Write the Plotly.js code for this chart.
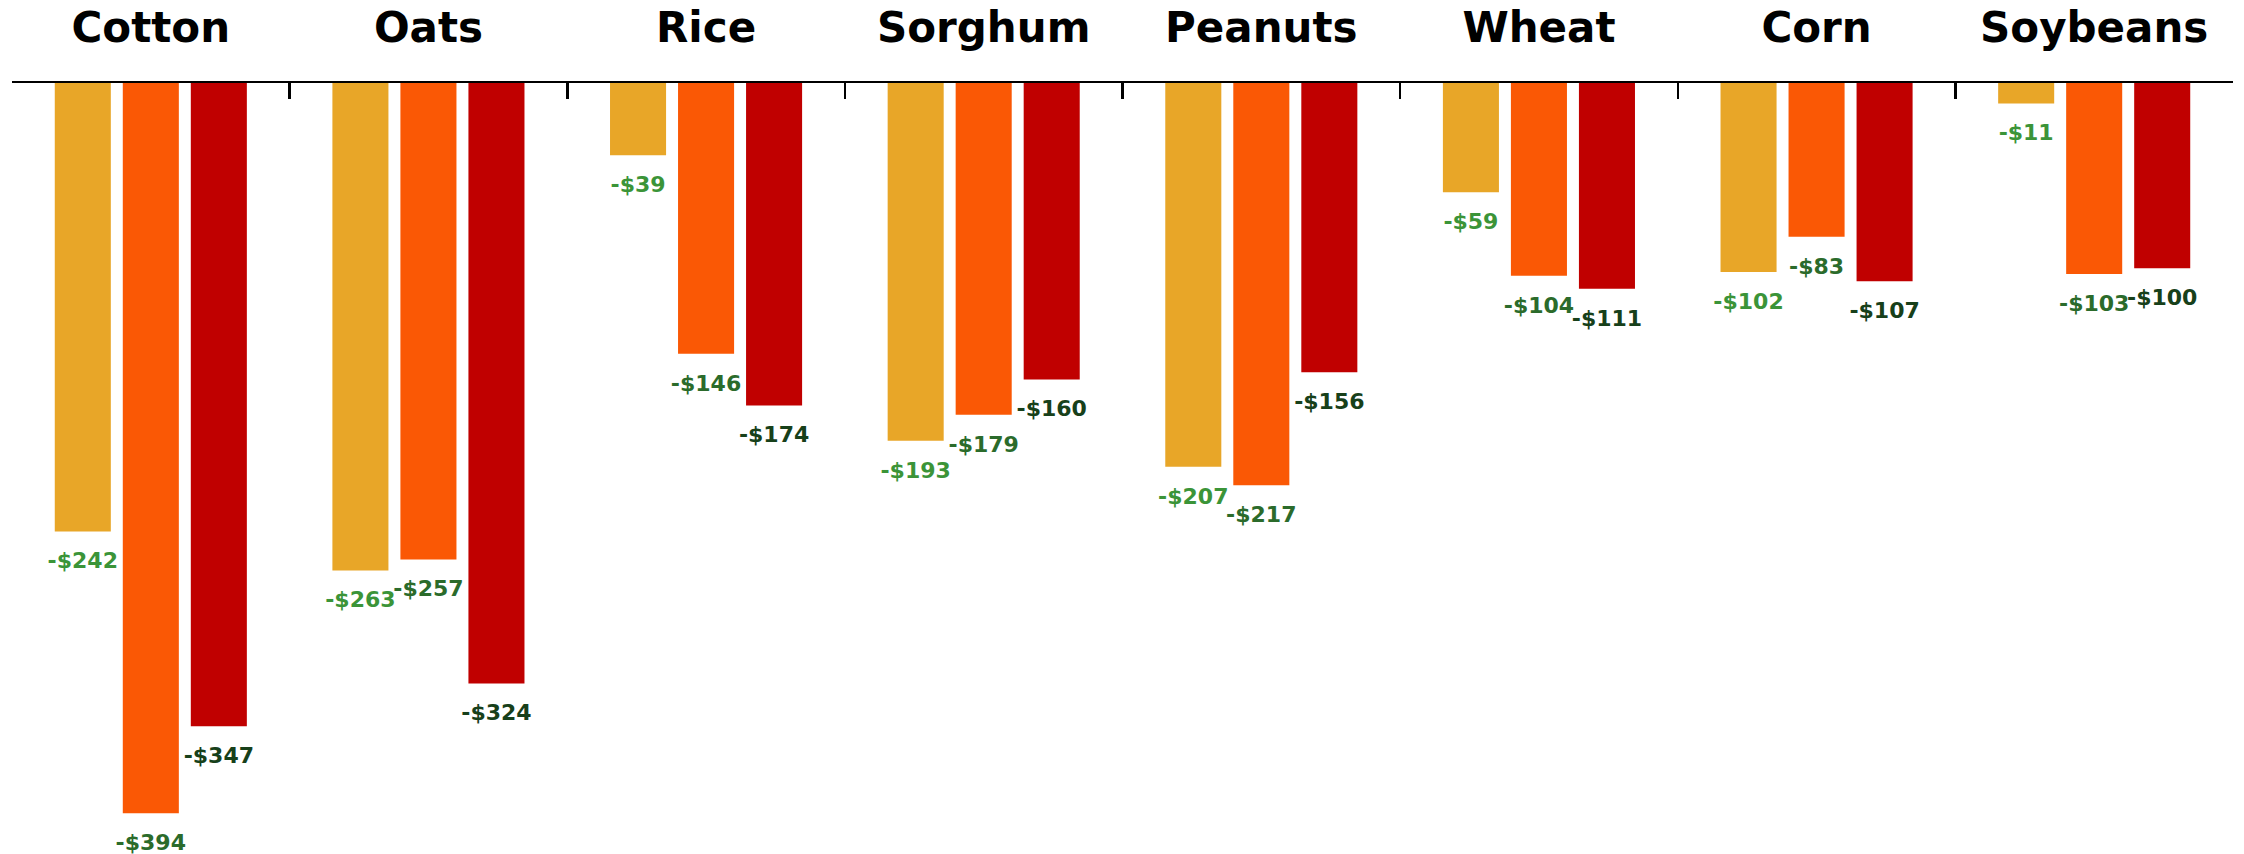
<!DOCTYPE html>
<html>
<head>
<meta charset="utf-8">
<script src="https://cdn.plot.ly/plotly-3.0.1.min.js"></script>
<style>html,body{margin:0;padding:0;background:#fff;}#chart{width:2244px;height:854px;}</style>
</head>
<body>
<div id="chart"></div>
<script>
const categories = ["Cotton", "Oats", "Rice", "Sorghum", "Peanuts", "Wheat", "Corn", "Soybeans"];
const series1 = [-242, -263, -39, -193, -207, -59, -102, -11];
const series2 = [-394, -257, -146, -179, -217, -104, -83, -103];
const series3 = [-347, -324, -174, -160, -156, -111, -107, -100];
const seriesNames = ["Series 1", "Series 2", "Series 3"];
const barColors = ["#E8A628", "#FA5805", "#C00000"];
const labelColors = ["#3B9438", "#2B6B2B", "#17401A"];

const allSeries = [series1, series2, series3];
const fmt = v => (v < 0 ? "-$" : "$") + Math.abs(v);
const FONT = "DejaVu Sans, Verdana, sans-serif";

const traces = [];
allSeries.forEach((vals, i) => {
  traces.push({
    type: "bar", x: categories, y: vals, name: seriesNames[i],
    marker: {color: barColors[i]}, offsetgroup: "g" + i, hoverinfo: "skip"
  });
});
allSeries.forEach((vals, i) => {
  traces.push({
    type: "scatter", mode: "markers+text", x: categories, y: vals,
    offsetgroup: "g" + i, text: vals.map(fmt), textposition: "bottom center",
    textfont: {family: FONT, size: 22, color: labelColors[i], weight: "bold"},
    marker: {size: 31, color: "rgba(0,0,0,0)"}, cliponaxis: false,
    hoverinfo: "skip", showlegend: false
  });
});

const layout = {
  width: 2244, height: 854,
  margin: {l: 12, r: 11, t: 83, b: 11},
  paper_bgcolor: "#fff", plot_bgcolor: "#fff",
  font: {family: FONT},
  showlegend: false,
  barmode: "group", bargap: 0.265, bargroupgap: 0.176,
  scattermode: "group", scattergap: 0.265,
  xaxis: {
    side: "top", type: "category", tickson: "boundaries",
    ticks: "inside", ticklen: 16, tickwidth: 2.5, tickcolor: "#000",
    showline: true, linecolor: "#000", linewidth: 2.5,
    tickfont: {family: FONT, size: 42, color: "#000", weight: "bold"},
    ticklabelstandoff: 22, showgrid: false, zeroline: false,
    range: [-0.5, 7.5], fixedrange: true
  },
  yaxis: {
    range: [-410, 0], showticklabels: false, ticks: "", showgrid: false,
    zeroline: false, showline: false, fixedrange: true
  }
};
Plotly.newPlot("chart", traces, layout, {displayModeBar: false, staticPlot: true});
</script>
</body>
</html>
